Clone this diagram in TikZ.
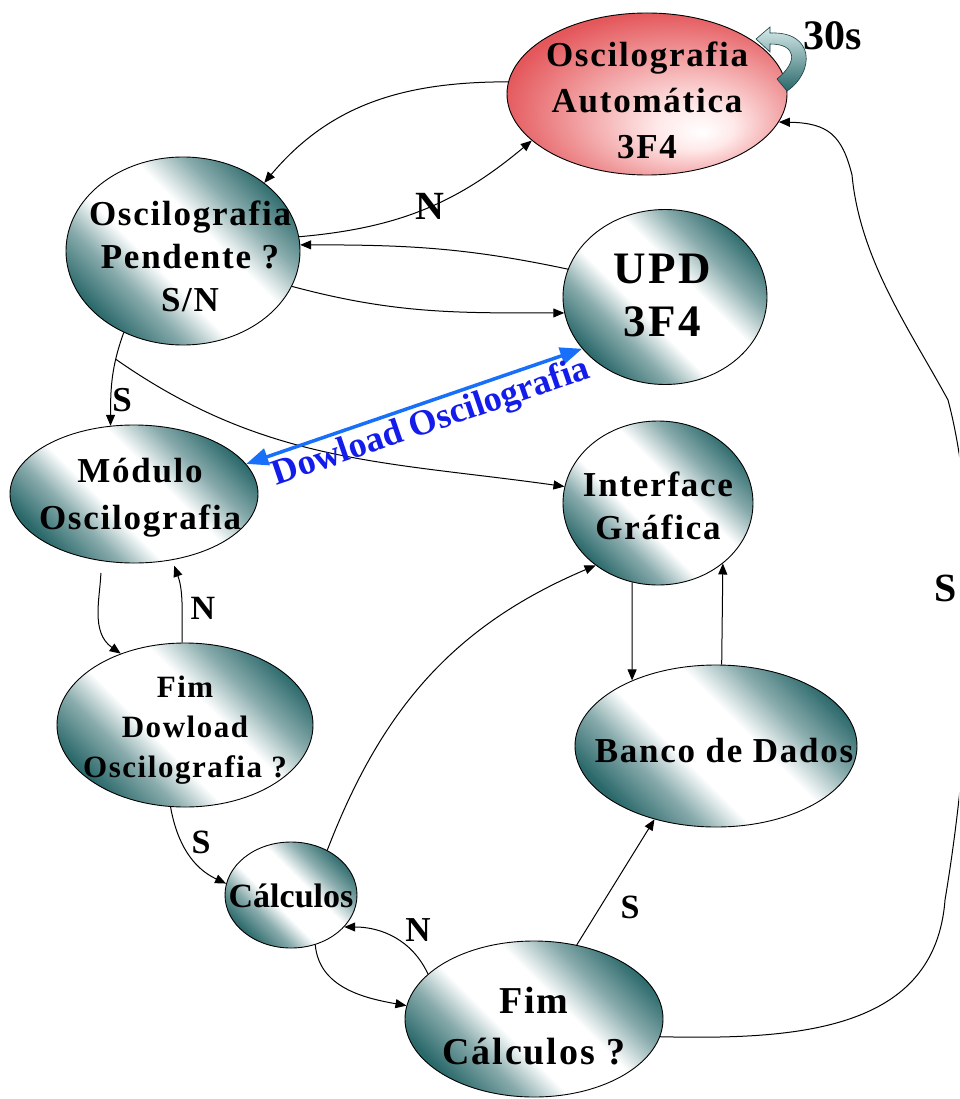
\documentclass[tikz,border=0pt]{standalone}
\usepackage{fontspec}
\setmainfont{Liberation Serif}
\newfontfamily\spaced{Liberation Serif}[LetterSpace=5]
\usetikzlibrary{shapes.geometric,arrows.meta}

\definecolor{tdark}{RGB}{42,104,106}
\definecolor{tlight}{RGB}{214,234,234}
\colorlet{tmid}{tdark!55!white}
\definecolor{rdark}{RGB}{228,88,92}
\definecolor{rlight}{RGB}{255,232,232}
\definecolor{dlblue}{RGB}{24,112,250}
\definecolor{dltext}{RGB}{20,28,235}

% teal band: dark on two opposite corners, light across the middle
\pgfdeclareverticalshading{tealband}{100bp}{color(0bp)=(tdark); color(25bp)=(tdark); color(35bp)=(tmid); color(43bp)=(white); color(57bp)=(white); color(66bp)=(tmid); color(76bp)=(tdark); color(100bp)=(tdark)}
% red glow with a pale spot towards the lower right
\pgfdeclareradialshading{redglow}{\pgfpoint{10bp}{-12bp}}{color(0bp)=(white); color(7bp)=(rlight); color(30bp)=(rdark); color(50bp)=(rdark)}

\tikzset{
  state/.style={ellipse, draw=black, line width=0.9pt, inner sep=0pt, shade, shading=tealband, shading angle=-45},
  alarm/.style={ellipse, draw=black, line width=0.9pt, inner sep=0pt, shade, shading=redglow, shading angle=0},
  txt/.style={align=center, inner sep=0pt},
  flow/.style={draw=black, line width=1pt, -{Triangle[length=11pt,width=9pt]}},
  dl/.style={draw=dlblue, line width=3.5pt, {Triangle[length=22pt,width=17pt]}-{Triangle[length=22pt,width=17pt]}},
  lbl/.style={inner sep=0pt, font=\bfseries\fontsize{35}{35}\selectfont},
}

\begin{document}
\begin{tikzpicture}[x=1pt,y=1pt]
\fill[white] (0,0) rectangle (959,-1099);
\useasboundingbox (0,0) rectangle (959,-1099);

% states
\node[alarm, minimum width=280pt, minimum height=162pt] (red) at (647,-94) {};
\node[state, minimum width=234pt, minimum height=188pt] (pend) at (183,-251) {};
\node[state, minimum width=204pt, minimum height=175pt] (upd) at (665,-297) {};
\node[state, minimum width=248pt, minimum height=138pt] (mod) at (134,-494) {};
\node[state, minimum width=190pt, minimum height=164pt] (iface) at (658,-503) {};
\node[state, minimum width=256pt, minimum height=164pt] (fimdl) at (185,-725) {};
\node[state, minimum width=282pt, minimum height=162pt] (banco) at (716,-746) {};
\node[state, minimum width=132pt, minimum height=106pt] (calc) at (291,-895) {};
\node[state, minimum width=258pt, minimum height=156pt] (fimc) at (534,-1019) {};

% state texts
\node[txt, font=\spaced\bfseries\fontsize{35}{46}\selectfont] (redT) at (647,-100) {Oscilografia\\Automática\\3F4};
\node[txt, font=\spaced\bfseries\fontsize{35}{43}\selectfont] (pendT) at (190,-256) {Oscilografia\\Pendente ?\\S/N};
\node[txt, font=\spaced\bfseries\fontsize{45}{53}\selectfont] (updT) at (662,-295) {UPD\\3F4};
\node[txt, font=\spaced\bfseries\fontsize{35}{47}\selectfont] (modT) at (140,-498) {Módulo\\Oscilografia};
\node[txt, font=\spaced\bfseries\fontsize{35}{43}\selectfont] (ifaceT) at (658,-506) {Interface\\Gráfica};
\node[txt, font=\spaced\bfseries\fontsize{31}{40}\selectfont] (fimdlT) at (185,-730) {Fim\\Dowload\\Oscilografia ?};
\node[txt, font=\spaced\bfseries\fontsize{35}{40}\selectfont] (bancoT) at (724,-751) {Banco de Dados};
\node[txt, font=\bfseries\fontsize{34}{40}\selectfont] (calcT) at (291,-896) {Cálculos};
\node[txt, font=\spaced\bfseries\fontsize{38}{51}\selectfont] (fimcT) at (534,-1026) {Fim\\Cálculos ?};

% 30 s self-timer
\path[draw=tdark!60!black, line width=0.6pt, top color=tlight, bottom color=tdark]
  (777,-79) .. controls (798,-62) and (797,-44) .. (770,-44) -- (770,-52) -- (756,-39)
  -- (770,-27) -- (770,-33) .. controls (815,-31) and (815,-72) .. (787,-91) -- cycle;
\node[lbl, font=\bfseries\fontsize{42}{42}\selectfont] (t30) at (833,-36) {30s};

% transitions
\draw[flow] (red.175) to[out=180,in=50] (pend.40);
\draw[flow] (pend.7) to[out=5,in=220] (red.202);
\draw[flow] (upd.164) to[out=168,in=0] (pend.3);
\draw[flow] (pend.-18) to[out=-15,in=180] (upd.189);
\draw[flow] (pend.234) to[out=250,in=90] coordinate[pos=0.28] (sb) (mod.109);
\draw[flow] (sb) to[out=-35,in=172] (iface.170);
\draw[dl] (mod.15) -- node[sloped, below=3pt, pos=0.53, text=dltext, inner sep=0pt,
  font=\bfseries\fontsize{36}{36}\selectfont] (dlT) {Dowload Oscilografia} (upd.212);
\draw[flow, shorten <=12pt] (mod.244) to[out=-92,in=145] (fimdl.132);
\draw[flow, shorten >=6pt] (fimdl.92) to[out=90,in=-70] (mod.-60);
\draw[flow] (fimdl.260) to[out=-80,in=155] (calc.170);
\draw[flow] (calc.51) to[out=69,in=203] (iface.225);
\draw[flow] (iface.252) -- (banco.142);
\draw[flow] (banco.86) -- (iface.-43);
\draw[flow] (calc.-64) to[out=-85,in=170] (fimc.174);
\draw[flow] (fimc.157) to[out=115,in=0] (calc.-31);
\draw[flow] (fimc.60) -- (banco.230);
\begin{scope}
  \clip (0,0) rectangle (959,-1099);
  \draw[flow] (fimc.-8) .. controls (800,-1040) and (935,-1030) .. (945,-900)
    .. controls (975,-720) and (980,-520) .. (948,-400)
    .. controls (910,-330) and (860,-260) .. (852,-175)
    .. controls (842,-135) and (828,-123) .. (red.-12);
\end{scope}

% transition labels
\node[lbl, font=\bfseries\fontsize{40}{40}\selectfont] (nB) at (430,-206) {N};
\node[lbl] (sE) at (122,-400) {S};
\node[lbl, font=\bfseries\fontsize{34}{34}\selectfont] (nI) at (203,-608) {N};
\node[lbl, font=\bfseries\fontsize{34}{34}\selectfont] (sJ) at (201,-842) {S};
\node[lbl] (nO) at (418,-930) {N};
\node[lbl, font=\bfseries\fontsize{34}{34}\selectfont] (sP) at (630,-907) {S};
\node[lbl, font=\bfseries\fontsize{40}{40}\selectfont] (sQ) at (946,-588) {S};
\end{tikzpicture}
\end{document}
